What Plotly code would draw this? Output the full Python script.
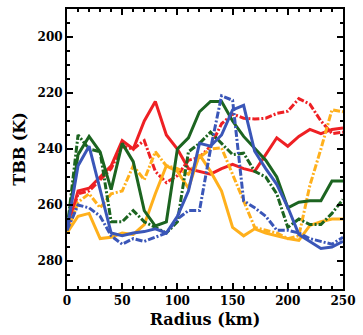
import plotly.graph_objects as go

radius = list(range(0, 260, 10))

red_solid = [269, 255, 254, 250, 246, 237, 240, 230, 223, 235, 240, 247, 248, 249, 247, 245.5, 247, 248, 242, 236, 239, 235.5, 233, 234.5, 233, 232.5]
red_dash = [269, 256, 255, 251, 247, 239, 240, 237, 248, 252, 249.5, 244, 243, 239, 231, 227.5, 229, 229.3, 229, 227.3, 226.5, 222, 224, 230, 234.5, 234]
green_solid = [269, 242, 235.5, 241, 254.5, 238, 244.5, 262, 267.5, 266, 240, 236, 226.7, 223, 223, 230, 235.5, 239.6, 244, 250, 261, 259, 258.5, 258.5, 251.4, 251.4]
green_dash = [269, 235, 240, 241, 266, 266, 262, 266, 268, 270, 266, 241, 238, 234, 238, 242, 241.5, 248, 250, 256, 268, 265, 267, 267, 263, 258]
blue_solid = [269, 246, 239, 255, 270, 271, 270, 269.5, 268.5, 270, 264, 255, 238, 239, 235, 226, 224.4, 240.8, 247, 252.6, 260.8, 270.5, 273, 275.5, 275, 273]
blue_dash = [269, 260, 261, 264, 271, 274, 272, 273, 271.5, 270, 265, 262, 262, 240, 221, 222.6, 258.5, 261, 264, 269, 269, 270, 272, 273, 274, 271.5]
orange_solid = [270, 264, 263, 272, 271.5, 270, 270.5, 267, 256, 246, 248, 254, 242, 248, 255, 268, 271, 268.5, 270, 271, 272, 272.6, 267.3, 266, 265, 265]
orange_dash = [270, 259, 256, 261, 256, 255, 246, 251, 241, 246, 247, 249, 243, 240, 239.6, 249, 258.5, 268, 269, 270, 272, 271, 253, 240, 226, 226.7]

RED = "rgb(238,32,36)"
GREEN = "rgb(28,100,32)"
BLUE = "rgb(58,86,184)"
ORANGE = "rgb(255,176,28)"
DASHDOT = "7px,2px,2px,2px"

series = [
    (red_dash, RED, DASHDOT),
    (red_solid, RED, "solid"),
    (orange_dash, ORANGE, DASHDOT),
    (orange_solid, ORANGE, "solid"),
    (green_dash, GREEN, DASHDOT),
    (green_solid, GREEN, "solid"),
    (blue_dash, BLUE, DASHDOT),
    (blue_solid, BLUE, "solid"),
]

fig = go.Figure()
for vals, col, dash in series:
    fig.add_trace(go.Scatter(x=radius, y=vals, mode="lines",
                             line=dict(color=col, width=3, dash=dash),
                             showlegend=False))

font_family = "DejaVu Serif"
axis_common = dict(
    showline=True, linecolor="black", linewidth=2, mirror="ticks",
    ticks="inside", ticklen=6, tickwidth=1.5, tickcolor="black",
    showgrid=False, zeroline=False,
    tickfont=dict(family=font_family, size=12, color="black", weight="bold"),
)

fig.update_xaxes(range=[0, 250], dtick=50, tick0=0,
                 minor=dict(dtick=10, ticks="inside", ticklen=3, tickcolor="black"),
                 title=dict(text="<b>Radius (km)</b>", font=dict(family=font_family, size=16, color="black"), standoff=6),
                 **axis_common)
fig.update_yaxes(range=[290, 190], dtick=20, tick0=200,
                 minor=dict(dtick=5, ticks="inside", ticklen=3, tickcolor="black"),
                 title=dict(text="<b>TBB (K)</b>", font=dict(family=font_family, size=16, color="black"), standoff=8),
                 **axis_common)

fig.update_layout(
    width=363, height=335,
    margin=dict(l=67, r=13, t=7, b=46),
    paper_bgcolor="white", plot_bgcolor="white",
)

fig.write_html("out.html")
